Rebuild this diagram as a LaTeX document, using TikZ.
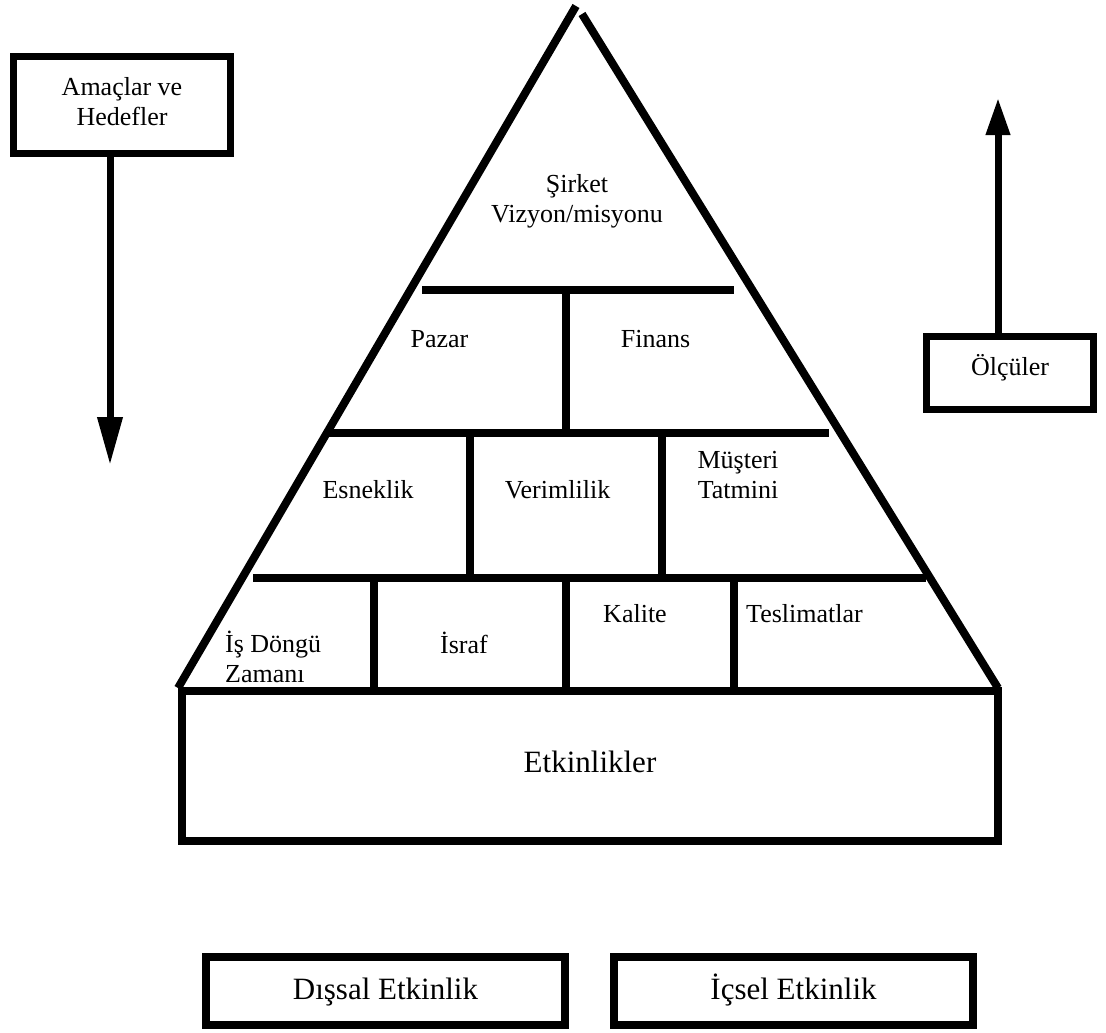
\documentclass[tikz,border=0pt]{standalone}
\usepackage{fontspec}
\setmainfont{Liberation Serif}
\usetikzlibrary{arrows.meta}
\begin{document}
\begin{tikzpicture}[x=1pt,y=-1pt,
  wall/.style={line width=8pt},
  lbl/.style={font=\fontsize{26}{30}\selectfont, inner sep=0pt},
  biglbl/.style={font=\fontsize{31}{36}\selectfont, inner sep=0pt},
  frame/.style={draw, line width=7pt, inner sep=0pt},
  downflow/.style={line width=7pt, -{Triangle[length=48pt,width=24pt]}},
  upflow/.style={line width=7pt, -{Triangle[length=37pt,width=23pt]}}]
\useasboundingbox[fill=white] (0,0) rectangle (1106,1033);

% side boxes with their arrows
\node[frame, lbl, align=center, minimum width=217pt, minimum height=97pt,
      text depth=6.8pt] (goals) at (122,105) {Amaçlar ve\\Hedefler};
\coordinate (goalsTip) at (110,465);
\draw[downflow] (goalsTip |- goals.south) -- (goalsTip);

\node[frame, lbl, minimum width=167pt, minimum height=73pt,
      text height=12pt, text depth=8pt] (measures) at (1010,373) {Ölçüler};
\coordinate (measTip) at (998,98);
\draw[upflow] (measTip |- measures.north) -- (measTip);

% base block
\node[draw, line width=8pt, biglbl, minimum width=816pt, minimum height=150pt,
      text height=21pt, text depth=9pt] (acts) at (590,766) {Etkinlikler};

% pyramid outline
\coordinate (baseL) at (178,688);
\coordinate (baseR) at (998,688);
\coordinate (apexL) at (576,6);
\coordinate (apexR) at (582,14);
\draw[wall] (baseL) -- (apexL);
\draw[wall] (apexR) -- (baseR);

% pyramid tiers
\draw[wall] (422,290) -- (734,290);
\draw[wall] (327,433) -- (829,433);
\draw[wall] (253,578) -- (926,578);
\draw[wall] (566,290) -- (566,433);
\draw[wall] (470,433) -- (470,578);
\draw[wall] (662,433) -- (662,578);
\draw[wall] (374,578) -- (374,691);
\draw[wall] (566,578) -- (566,691);
\draw[wall] (734,578) -- (734,691);

% pyramid labels
\node[lbl, align=center] (vision) at (577,201.4) {Şirket\\Vizyon/misyonu};
\node[lbl, anchor=base] (market) at (439.5,347) {Pazar};
\node[lbl, anchor=base] (finance) at (655.5,347) {Finans};
\node[lbl, anchor=base] (flex) at (368,498) {Esneklik};
\node[lbl, anchor=base] (effic) at (557.5,498) {Verimlilik};
\node[lbl, align=center] (satis) at (738,475.1) {Müşteri\\Tatmini};
\node[lbl, anchor=west, align=left] (cycle) at (225,657) {İş Döngü\\Zamanı};
\node[lbl, anchor=base] (waste) at (464,653) {İsraf};
\node[lbl, anchor=base] (quality) at (635,622) {Kalite};
\node[lbl, anchor=base] (deliv) at (804.5,622) {Teslimatlar};

% bottom boxes
\node[frame, line width=8pt, biglbl, minimum width=359pt, minimum height=68pt,
      text height=21pt, text depth=5pt] (ext) at (385.5,991) {Dışsal Etkinlik};
\node[frame, line width=8pt, biglbl, minimum width=359pt, minimum height=68pt,
      text height=21pt, text depth=5pt] (int) at (793.5,991) {İçsel Etkinlik};
\end{tikzpicture}
\end{document}
